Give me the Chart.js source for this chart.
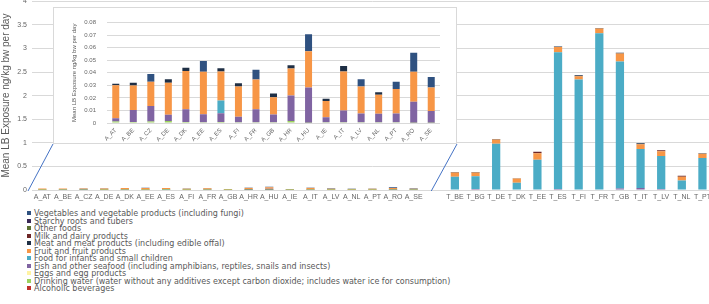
<!DOCTYPE html>
<html>
<head>
<meta charset="utf-8">
<script src="https://cdn.jsdelivr.net/npm/chart.js@4.4.1/dist/chart.umd.min.js"></script>
<style>
  html, body { margin: 0; padding: 0; background: #fff; overflow: hidden; }
  #wrap { position: relative; width: 709px; height: 304px; overflow: hidden; }
  #mainChart { position: absolute; left: 0; top: -8px; }
  #insetBox { position: absolute; left: 53px; top: 7px; width: 404px; height: 137px;
    box-sizing: border-box; border: 1px solid #d9d9d9; background: #fff; }
  #insetChart { position: absolute; left: 0; top: 0; }
  #legend { position: absolute; left: 27px; top: 210px; font: 8px "DejaVu Sans", Arial, sans-serif; color: #595959; }
  #legend div { height: 7.5px; line-height: 7.5px; white-space: nowrap; }
  #legend span { display: inline-block; width: 4px; height: 4px; margin-right: 3px; vertical-align: 1px; }
</style>
</head>
<body>
<div id="wrap">
  <canvas id="mainChart" width="714" height="210"></canvas>
  <div id="insetBox"><canvas id="insetChart" width="402" height="135"></canvas></div>
  <div id="legend"></div>
</div>
<script>
const categories = ["A_AT", "A_BE", "A_CZ", "A_DE", "A_DK", "A_EE", "A_ES", "A_FI", "A_FR", "A_GB",
  "A_HR", "A_HU", "A_IE", "A_IT", "A_LV", "A_NL", "A_PT", "A_RO", "A_SE", "",
  "T_BE", "T_BG", "T_DE", "T_DK", "T_EE", "T_ES", "T_FI", "T_FR", "T_GB", "T_IT", "T_LV", "T_NL", "T_PT"];

// values: 19 adult groups, one empty slot, 13 toddler groups
const alcoholic = [0,0,0,0,0,0,0,0,0,0,0,0,0,0,0,0,0,0,0, null, 0,0,0,0,0,0,0,0,0,0,0,0,0];
const drinkingWater = [0.0012,0.0008,0.0012,0.0015,0.0008,0.0006,0.0008,0.0006,0.0006,0.0006,0.0015,0.0002,0.0005,0.0005,0.0005,0.0005,0.0005,0.0002,0.0002, null,
  0,0,0,0,0,0,0,0,0,0,0,0,0];
const eggs = [0,0,0,0,0,0,0,0,0,0,0,0,0,0,0,0,0,0,0, null, 0,0,0,0,0,0,0,0,0,0,0,0,0];
const fish = [0.0026,0.0095,0.0123,0.005,0.0102,0.0064,0.007,0.0044,0.0104,0.0062,0.0205,0.0281,0.004,0.0095,0.007,0.0068,0.007,0.0168,0.0093, null,
  0.01,0.02,0.01,0.01,0.01,0.02,0.01,0.01,0.03,0.04,0.02,0.01,0.01];
const infantFood = [0,0,0,0,0,0,0.0102,0,0,0,0,0,0,0,0,0,0,0,0, null,
  0.27,0.27,0.97,0.145,0.63,2.90,2.33,3.31,2.69,0.83,0.70,0.19,0.67];
const fruit = [0.0262,0.0195,0.0193,0.0255,0.0304,0.0338,0.023,0.024,0.0236,0.0137,0.0214,0.0288,0.013,0.031,0.0215,0.0153,0.0195,0.0239,0.0188, null,
  0.09,0.08,0.09,0.09,0.14,0.11,0.07,0.10,0.17,0.10,0.10,0.08,0.09];
const meat = [0.0013,0.0022,0,0.0028,0.0027,0,0.0026,0.0026,0,0.0031,0.0026,0,0.0018,0.0044,0,0.002,0,0,0, null,
  0.01,0.01,0.01,0.005,0,0.01,0.02,0.01,0.02,0.02,0,0,0.01];
const milk = [0,0,0,0,0,0,0,0,0,0,0,0,0,0,0,0,0,0,0, null, 0,0,0,0,0.03,0,0,0,0,0,0.02,0.02,0];
const otherFoods = [0,0,0,0,0,0,0,0,0,0,0,0,0,0,0,0,0,0,0, null, 0,0,0,0,0,0,0,0,0,0,0,0,0];
const starchy = [0,0,0,0,0,0,0,0,0,0,0,0,0,0,0,0,0,0,0, null, 0,0,0,0,0,0,0,0,0,0,0,0,0];
const vegetables = [0,0,0.0062,0,0,0.0086,0,0,0.0078,0,0,0.0136,0,0,0.0058,0,0.0058,0.015,0.0083, null,
  0,0,0,0,0,0,0,0,0,0,0,0,0];

const mainTicks = [0, 0.5, 1, 1.5, 2, 2.5, 3, 3.5, 4];
const insetTicks = [0, 0.01, 0.02, 0.03, 0.04, 0.05, 0.06, 0.07, 0.08];

// stacking order, bottom first
const series = [
  ["Alcoholic beverages", alcoholic, "#c0302a"],
  ["Drinking water (water without any additives except carbon dioxide; includes water ice for consumption)", drinkingWater, "#9cd15e"],
  ["Eggs and egg products", eggs, "#fff3a3"],
  ["Fish and other seafood (including amphibians, reptiles, snails and insects)", fish, "#8064a2"],
  ["Food for infants and small children", infantFood, "#4bacc6"],
  ["Fruit and fruit products", fruit, "#f79646"],
  ["Meat and meat products (including edible offal)", meat, "#1f2f45"],
  ["Milk and dairy products", milk, "#6d2626"],
  ["Other foods", otherFoods, "#5b7032"],
  ["Starchy roots and tubers", starchy, "#3a2856"],
  ["Vegetables and vegetable products (including fungi)", vegetables, "#2f5180"]
];

const yTitle = "Mean LB Exposure ng/kg bw per day";
const textColor = "#666";
const gridColor = "#d9d9d9";
const narrow = "'Liberation Sans Narrow', 'Liberation Sans', Arial, sans-serif";
const plain = "'Liberation Sans', Arial, sans-serif";

function makeDatasets(count) {
  return series.map(s => ({
    label: s[0],
    data: s[1].slice(0, count),
    backgroundColor: s[2],
    borderWidth: 0,
    barPercentage: 0.4,
    categoryPercentage: 1
  }));
}

// lines from the inset's bottom corners down to the part of the axis it enlarges
const connector = {
  id: "connector",
  afterDraw(chart) {
    const box = document.getElementById("insetBox");
    const cv = chart.canvas;
    const bx = box.offsetLeft - cv.offsetLeft;
    const by = box.offsetTop - cv.offsetTop + box.offsetHeight;
    const y0 = chart.scales.y.getPixelForValue(0) + 1;
    const ctx = chart.ctx;
    ctx.save();
    ctx.strokeStyle = "#4472c4";
    ctx.lineWidth = 1;
    ctx.beginPath();
    ctx.moveTo(bx, by);
    ctx.lineTo(chart.chartArea.left - 4, y0);
    ctx.moveTo(bx + box.offsetWidth, by);
    ctx.lineTo(chart.scales.x.getPixelForValue(19) - 3, y0);
    ctx.stroke();
    ctx.restore();
  }
};

new Chart(document.getElementById("mainChart"), {
  type: "bar",
  plugins: [connector],
  data: { labels: categories, datasets: makeDatasets(categories.length) },
  options: {
    responsive: false,
    animation: false,
    devicePixelRatio: 1,
    layout: { padding: 0 },
    plugins: { legend: { display: false }, tooltip: { enabled: false } },
    scales: {
      x: {
        stacked: true,
        afterFit: s => { s.height = 12; },
        grid: { display: false, drawTicks: false },
        border: { display: false },
        ticks: { color: textColor, font: { family: plain, size: 7 }, autoSkip: false, maxRotation: 0, padding: 3 }
      },
      y: {
        stacked: true,
        min: 0,
        max: 4,
        afterBuildTicks: s => { s.ticks = mainTicks.map(v => ({ value: v })); },
        afterFit: s => { s.width = 32; },
        grid: { color: gridColor, drawTicks: false },
        border: { display: false },
        ticks: { color: textColor, font: { family: plain, size: 7 }, padding: 5, callback: v => String(v) },
        title: { display: true, text: yTitle, color: "#595959", font: { family: narrow, size: 10 }, padding: 0 }
      }
    }
  }
});

const adultCount = 19;
new Chart(document.getElementById("insetChart"), {
  type: "bar",
  data: { labels: categories.slice(0, adultCount), datasets: makeDatasets(adultCount) },
  options: {
    responsive: false,
    animation: false,
    devicePixelRatio: 1,
    layout: { padding: { left: 17, right: 16, top: 4, bottom: 0 } },
    plugins: { legend: { display: false }, tooltip: { enabled: false } },
    scales: {
      x: {
        stacked: true,
        afterFit: s => { s.height = 20; },
        grid: { display: false, drawTicks: false },
        border: { display: false },
        ticks: { color: textColor, font: { family: plain, size: 6 }, autoSkip: false, minRotation: 45, maxRotation: 45, padding: 4 }
      },
      y: {
        stacked: true,
        min: 0,
        max: 0.08,
        afterBuildTicks: s => { s.ticks = insetTicks.map(v => ({ value: v })); },
        afterFit: s => { s.width = 36; },
        grid: { color: gridColor, drawTicks: false },
        border: { display: false },
        ticks: { color: textColor, font: { family: plain, size: 6 }, padding: 11,
          callback: v => v === 0 ? "0" : v.toFixed(2) },
        title: { display: true, text: yTitle, color: "#595959", font: { family: narrow, size: 6 }, padding: 0 }
      }
    }
  }
});

// legend lists the top of the stack first
const legend = document.getElementById("legend");
series.slice().reverse().forEach(s => {
  const row = document.createElement("div");
  const sw = document.createElement("span");
  sw.style.background = s[2];
  row.appendChild(sw);
  row.appendChild(document.createTextNode(s[0]));
  legend.appendChild(row);
});
</script>
</body>
</html>
